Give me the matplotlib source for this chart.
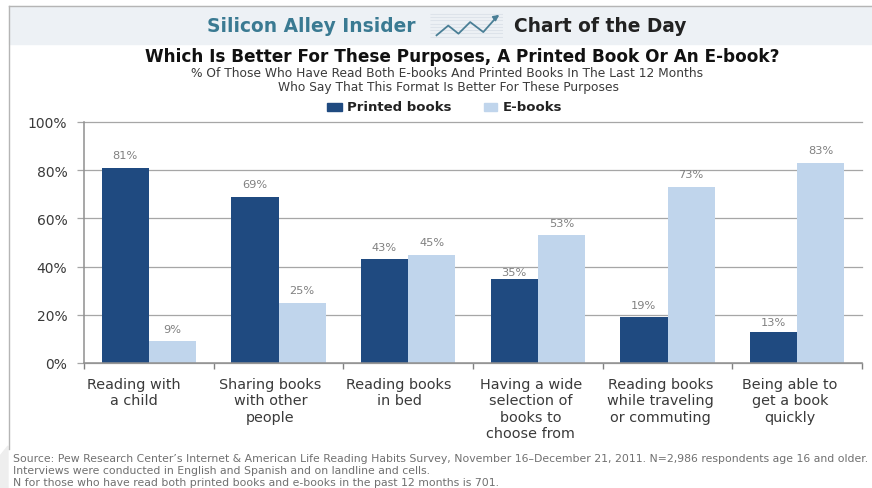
import numpy as np
import matplotlib
matplotlib.use('Agg')
import matplotlib.pyplot as plt
from matplotlib.patches import Rectangle, Polygon

categories = ['Reading with\na child', 'Sharing books\nwith other\npeople', 'Reading books\nin bed',
              'Having a wide\nselection of\nbooks to\nchoose from', 'Reading books\nwhile traveling\nor commuting',
              'Being able to\nget a book\nquickly']
printed = [81, 69, 43, 35, 19, 13]
ebooks = [9, 25, 45, 53, 73, 83]
yticks = [0, 20, 40, 60, 80, 100]
trend_x = [0.09, 0.25, 0.39, 0.55, 0.73, 0.92]
trend_y = [0.1, 0.46, 0.16, 0.59, 0.22, 0.8]

W, H = 872, 489
DARK = '#1f4a80'
LIGHT = '#c0d5ec'
TXT = '#3a3a3a'
GRID = '#a6a6a6'
plt.rcParams['font.family'] = ['DejaVu Sans']

fig = plt.figure(figsize=(W/100, H/100), dpi=100)

def fx(px):
    return px/W

def fy(py):
    return 1 - py/H

def label(px, py, s, **kw):
    fig.text(fx(px), fy(py), s, va='center', **kw)

# header band, frame, shadow at the bottom left
fig.add_artist(Rectangle((fx(9), fy(45)), fx(863), 38/H, transform=fig.transFigure, color='#edf1f5', zorder=-2))
fig.add_artist(Polygon([(0, fy(489)), (0, fy(457)), (fx(8), fy(447)), (fx(8), fy(489))],
                       transform=fig.transFigure, color='#eeeeee', zorder=-2))
fig.add_artist(plt.Line2D([fx(9), 1], [fy(6.5), fy(6.5)], color='#b5b5b5', lw=1))
fig.add_artist(plt.Line2D([fx(8.5), fx(8.5)], [fy(6.5), fy(450)], color='#b5b5b5', lw=1))

label(311, 26, 'Silicon Alley Insider', ha='center', fontsize=13.4, fontweight='bold', color='#3a7a92')
label(600, 26, 'Chart of the Day', ha='center', fontsize=13.4, fontweight='bold', color='#222222')
label(462, 56.5, 'Which Is Better For These Purposes, A Printed Book Or An E-book?', ha='center',
      fontsize=12.2, fontweight='bold', color='#111111')
label(447, 74, '% Of Those Who Have Read Both E-books And Printed Books In The Last 12 Months',
      ha='center', fontsize=8.8, color=TXT)
label(448, 87.5, 'Who Say That This Format Is Better For These Purposes', ha='center', fontsize=8.8, color=TXT)

# little trend icon in the header
icon = fig.add_axes([fx(430), fy(39), 73/W, 27/H], zorder=1)
icon.hlines(np.arange(0.05, 1.0, 0.12), 0, 1, color='#dde3ea', lw=0.8)
icon.plot(trend_x, trend_y, color='#4a7f96', lw=1.3)
icon.annotate('', xy=(0.98, 0.92), xytext=(0.87, 0.7),
              arrowprops=dict(arrowstyle='-|>', color='#4a7f96', lw=1.3, mutation_scale=8))
icon.set_xlim(0, 1)
icon.set_ylim(0, 1)
icon.axis('off')

# legend
fig.add_artist(Rectangle((fx(327), fy(112)), 15/W, 8/H, transform=fig.transFigure, color=DARK))
label(347, 107.5, 'Printed books', ha='left', fontsize=9.5, fontweight='bold', color='#222222')
fig.add_artist(Rectangle((fx(484), fy(112)), 13/W, 8/H, transform=fig.transFigure, color=LIGHT))
label(503, 107.5, 'E-books', ha='left', fontsize=9.5, fontweight='bold', color='#222222')

# main chart
ax = fig.add_axes([fx(84), fy(364), (862-84)/W, (364-123)/H])
x = np.arange(len(categories))
bw = 0.365
ax.set_axisbelow(True)
ax.grid(axis='y', color=GRID, lw=0.9, clip_on=False)
bars1 = ax.bar(x - bw/2, printed, bw, color=DARK)
bars2 = ax.bar(x + bw/2, ebooks, bw, color=LIGHT)
for bars in (bars1, bars2):
    for b in bars:
        h = b.get_height()
        # 35% and 13% sit closer to their bars in the original
        pad = {35: 1.5, 13: 3.5}.get(h, 5.5)
        ax.annotate('%d%%' % h, (b.get_x() + b.get_width()/2, h),
                    xytext=(0, pad), textcoords='offset points', ha='center', va='bottom',
                    fontsize=8.2, color='#808080')

ax.set_xlim(-0.5, 5.5)
ax.set_ylim(0, 100)
ax.set_yticks(yticks)
ax.set_yticklabels(['%d%%' % v for v in yticks], fontsize=10, color=TXT)
ax.set_xticks(np.arange(7) - 0.5)
ax.set_xticklabels([])
ax.tick_params(axis='x', length=4, width=1, color='#808080', direction='out')
ax.tick_params(axis='y', length=5, width=0.9, color=GRID, pad=7)
for s in ('top', 'right'):
    ax.spines[s].set_visible(False)
for s in ('left', 'bottom'):
    ax.spines[s].set_color('#909090')
    ax.spines[s].set_linewidth(1.1)

# the category labels are not quite centred under their bars in the original
label_shift = [-15, -8, -9, -7, -7, -7]
for i, c in enumerate(categories):
    ax.annotate(c, (i, 0), xytext=(label_shift[i]*0.72, -10), textcoords='offset points', ha='center', va='top',
                fontsize=10.4, color=TXT, linespacing=1.21)

src_kw = dict(ha='left', fontsize=7.85, color='#707070')
label(13, 459, 'Source: Pew Research Center\u2019s Internet & American Life Reading Habits Survey, November 16\u2013December 21, 2011. N=2,986 respondents age 16 and older.', **src_kw)
label(13, 471, 'Interviews were conducted in English and Spanish and on landline and cells.', **src_kw)
label(13, 483, 'N for those who have read both printed books and e-books in the past 12 months is 701.', **src_kw)

fig.savefig('out.png', dpi=100)
